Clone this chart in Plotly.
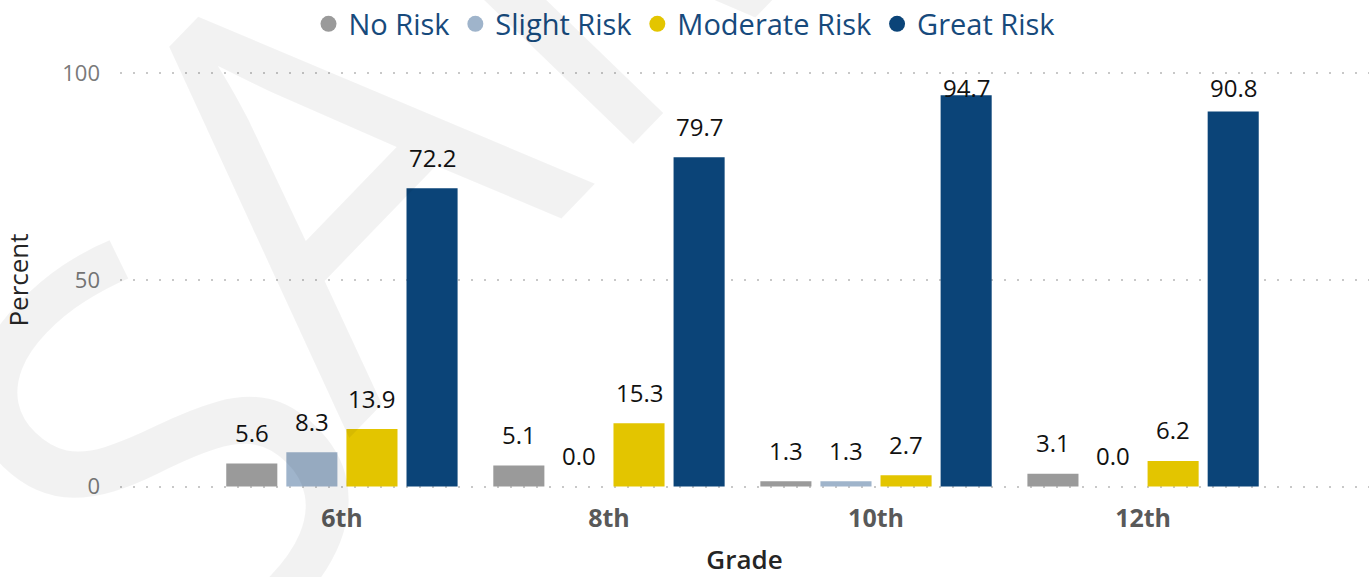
import plotly.graph_objects as go

grades = ["6th", "8th", "10th", "12th"]
series_names = ["No Risk", "Slight Risk", "Moderate Risk", "Great Risk"]
no_risk = [5.6, 5.1, 1.3, 3.1]
slight_risk = [8.3, 0.0, 1.3, 0.0]
moderate_risk = [13.9, 15.3, 2.7, 6.2]
great_risk = [72.2, 79.7, 94.7, 90.8]
colors = ["#9a9a9a", "#9fb4cb", "#e3c500", "#0b4478"]
y_ticks = [0, 50, 100]

values = [no_risk, slight_risk, moderate_risk, great_risk]

FONT = "Segoe UI, Open Sans, Noto Sans, sans-serif"
W, H = 1369, 577
PAD = 0.6                      # small range padding so the 0 and 100 gridlines show
PXU = 4.14                     # pixels per percent unit
ML, MR = 120, 0
MT = 73 - PAD * PXU
MB = 90 - PAD * PXU
BARGAP, BARGROUPGAP = 0.10, 0.15
xpos = list(range(len(grades)))

fig = go.Figure()
for name, vals, col in zip(series_names, values, colors):
    fig.add_trace(go.Bar(name=name, x=xpos, y=vals, marker_color=col,
                         marker_line_width=0, showlegend=False,
                         hovertemplate="%{y:.1f}<extra>" + name + "</extra>"))
# legend entries with circular markers
for name, col in zip(series_names, colors):
    fig.add_trace(go.Scatter(name=name, x=[None], y=[None], mode="markers",
                             marker=dict(color=col, size=20, symbol="circle"),
                             showlegend=True))

# data labels (outside end, kept inside the plot area at the top)
slot = (1 - BARGAP) / len(series_names)
annotations = []
for j, vals in enumerate(values):
    off = (j - (len(series_names) - 1) / 2) * slot
    for i, v in enumerate(vals):
        shift = min(31, (100 - v) * PXU - 14)
        annotations.append(dict(x=xpos[i] + off, y=v, xref="x", yref="y",
                                text=f"{v:.1f}", showarrow=False,
                                xanchor="center", yanchor="middle", yshift=shift,
                                font=dict(family=FONT, size=24, color="#111111")))

# watermark "SAMPLE" (first letter placed separately)
wm_font = dict(family="Open Sans", size=560, color="rgba(0,0,0,0.052)")
annotations.append(dict(text="S", xref="paper", yref="paper",
                        x=0.0224, y=0.118, showarrow=False, textangle=-46,
                        xanchor="center", yanchor="middle", font=wm_font))
annotations.append(dict(text="AMPLE", xref="paper", yref="paper",
                        x=0.558, y=2.031, showarrow=False, textangle=-46,
                        xanchor="center", yanchor="middle", font=wm_font))

fig.update_layout(
    width=W, height=H,
    margin=dict(l=ML, r=MR, t=MT, b=MB, autoexpand=False),
    plot_bgcolor="white", paper_bgcolor="white",
    barmode="group", bargap=BARGAP, bargroupgap=BARGROUPGAP,
    font=dict(family=FONT),
    legend=dict(orientation="h", xref="container", yref="container",
                x=0.5, xanchor="center", y=1 - 24 / H, yanchor="middle",
                font=dict(family=FONT, size=29, color="#174a7c"),
                itemwidth=30, tracegroupgap=0),
    xaxis=dict(tickmode="array", tickvals=xpos, ticktext=grades,
               range=[-0.831, 3.846], showgrid=False, zeroline=False, showline=False,
               ticks="", ticklabelstandoff=12, automargin=False,
               tickfont=dict(family=FONT, size=25, color="#595959", weight="bold"),
               title=dict(text="Grade", standoff=26,
                          font=dict(family=FONT, size=26, color="#252525", weight=600))),
    yaxis=dict(range=[-PAD, 100 + PAD], tickvals=y_ticks, showgrid=True,
               gridcolor="#c8c8c8", griddash="2px,11px", gridwidth=1.5,
               zeroline=False, showline=False, ticks="", ticklabelstandoff=19,
               automargin=False,
               tickfont=dict(family=FONT, size=22, color="#7a7a7a"),
               title=dict(text="Percent", standoff=33,
                          font=dict(family=FONT, size=26, color="#252525"))),
    annotations=annotations,
)

fig.write_html("out.html", config={"displayModeBar": False},
               post_script="document.body.style.margin='0px';")
